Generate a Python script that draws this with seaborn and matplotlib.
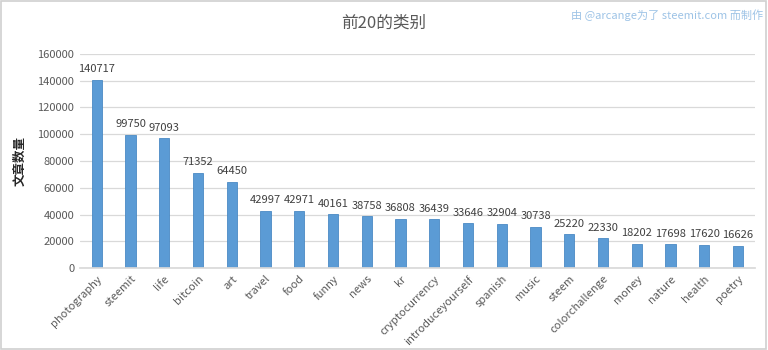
import matplotlib
matplotlib.use("Agg")
import matplotlib.pyplot as plt
import seaborn as sns
import pandas as pd
from matplotlib.patches import Rectangle

categories = ["photography", "steemit", "life", "bitcoin", "art", "travel", "food",
              "funny", "news", "kr", "cryptocurrency", "introduceyourself", "spanish",
              "music", "steem", "colorchallenge", "money", "nature", "health", "poetry"]
counts = [140717, 99750, 97093, 71352, 64450, 42997, 42971, 40161, 38758, 36808,
          36439, 33646, 32904, 30738, 25220, 22330, 18202, 17698, 17620, 16626]
yticks = [0, 20000, 40000, 60000, 80000, 100000, 120000, 140000, 160000]

title = "前20的类别"
ylabel = "文章数量"
credit = "由 @arcange为了 steemit.com 而制作"

sns.set_theme(style="white")
plt.rcParams["font.family"] = ["Noto Sans CJK SC", "DejaVu Sans"]

df = pd.DataFrame({"category": categories, "count": counts})

fig = plt.figure(figsize=(7.68, 3.5), dpi=100)
ax = fig.add_axes([0.104, 0.234, 0.879, 0.612])

sns.barplot(data=df, x="category", y="count", ax=ax, color="#5B9BD5",
            width=0.3, edgecolor="#4A8AC4", linewidth=0.6, saturation=1)

ax.set_ylim(0, 160000)
ax.set_yticks(yticks)
ax.set_yticklabels([str(v) for v in yticks], fontsize=8, color="#595959")
ax.set_xlim(-0.5, len(categories) - 0.5)
ax.grid(axis="y", color="#D9D9D9", linewidth=0.9)
ax.set_axisbelow(True)
for s in ["top", "right", "left"]:
    ax.spines[s].set_visible(False)
ax.spines["bottom"].set_color("#D9D9D9")
ax.tick_params(axis="both", length=0, pad=4)

ax.set_xticks(range(len(categories)))
ax.set_xticklabels(categories, rotation=45, ha="right", rotation_mode="anchor",
                   fontsize=8, color="#595959")
ax.set_xlabel("")
ax.set_ylabel(ylabel, fontsize=9, color="#262626", fontweight="bold", labelpad=8)

for i, v in enumerate(counts):
    ax.annotate(str(v), (i, v), xytext=(0, 4), textcoords="offset points",
                ha="center", va="bottom", fontsize=8, color="#404040")

fig.text(0.5, 0.935, title, ha="center", va="center", fontsize=12, color="#595959")
fig.text(0.994, 0.957, credit, ha="right", va="center", fontsize=8, color="#9DC3E6")

fig.patches.append(Rectangle((0.001, 0.002), 0.997, 0.995, transform=fig.transFigure,
                             fill=False, edgecolor="#D0D0D0", linewidth=1.2))

fig.savefig("out.png", dpi=100)
